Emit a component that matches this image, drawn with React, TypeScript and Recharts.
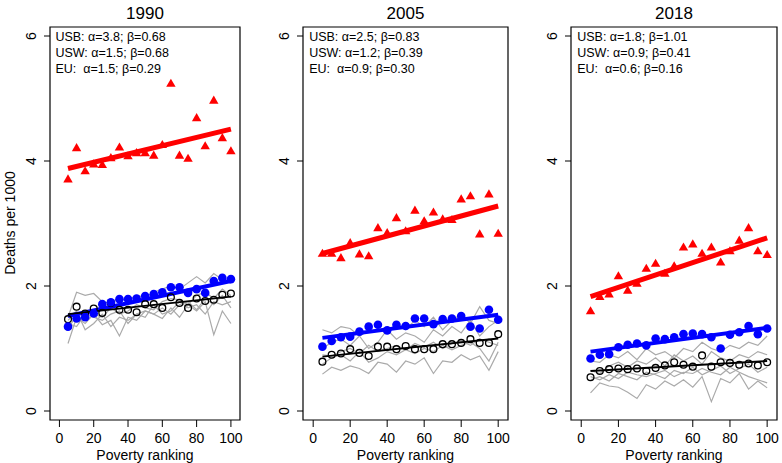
import React from "react";
import {
  ComposedChart,
  Line,
  Scatter,
  XAxis,
  YAxis,
  ReferenceArea,
} from "recharts";

// poverty ranking (x) shared by all panels
const ranks = [5, 10, 15, 20, 25, 30, 35, 40, 45, 50, 55, 60, 65, 70, 75, 80, 85, 90, 95, 100];
const xTicks = [0, 20, 40, 60, 80, 100];
const yTicks = [0, 2, 4, 6];

// 1990
const usb1990 = [3.7, 4.2, 3.83, 3.94, 3.93, 4.04, 4.21, 4.07, 4.12, 4.12, 4.08, 4.25, 5.23, 4.08, 4.03, 4.68, 4.23, 4.96, 4.36, 4.15];
const usw1990 = [1.35, 1.48, 1.5, 1.56, 1.71, 1.74, 1.79, 1.79, 1.8, 1.84, 1.87, 1.9, 1.98, 1.98, 1.89, 1.95, 1.89, 2.08, 2.13, 2.11];
const eu1990 = [1.47, 1.67, 1.56, 1.64, 1.57, 1.73, 1.62, 1.62, 1.58, 1.71, 1.71, 1.65, 1.82, 1.73, 1.65, 1.8, 1.76, 1.78, 1.86, 1.88];
const usbFit1990 = [3.88, 4.51];
const uswFit1990 = [1.52, 2.08];
const euFit1990 = [1.55, 1.83];
const grey1990 = [
  [1.5, 1.9, 1.85, 1.88, 1.75, 1.72, 1.8, 1.78, 1.85, 1.82, 1.9, 1.95, 2.0, 1.95, 2.05, 2.15, 2.05, 2.2, 2.1, 2.05],
  [1.3, 1.55, 1.6, 1.55, 1.5, 1.65, 1.55, 1.6, 1.7, 1.65, 1.62, 1.75, 1.8, 1.78, 1.7, 1.85, 1.9, 1.8, 1.95, 1.85],
  [1.08, 1.5, 1.4, 1.55, 1.38, 1.45, 1.2, 1.5, 1.45, 1.6, 1.55, 1.48, 1.65, 1.5, 1.7, 1.6, 1.75, 1.22, 1.6, 1.4],
  [1.45, 1.6, 1.3, 1.4, 1.55, 1.35, 1.5, 1.45, 1.55, 1.5, 1.7, 1.55, 1.6, 1.75, 1.65, 1.7, 1.55, 1.75, 1.7, 1.75],
  [1.4, 1.35, 1.55, 1.5, 1.45, 1.55, 1.6, 1.4, 1.55, 1.6, 1.55, 1.65, 1.55, 1.7, 1.75, 1.62, 1.8, 1.7, 1.85, 1.65],
];
const stats1990 = ["USB: α=3.8; β=0.68", "USW: α=1.5; β=0.68", "EU:  α=1.5; β=0.29"];

// 2005
const usb2005 = [2.51, 2.51, 2.44, 2.68, 2.5, 2.47, 2.92, 2.84, 3.08, 2.87, 3.2, 3.03, 3.17, 3.06, 3.05, 3.38, 3.43, 2.82, 3.46, 2.83];
const usw2005 = [1.03, 1.12, 1.18, 1.19, 1.27, 1.35, 1.38, 1.29, 1.38, 1.36, 1.48, 1.48, 1.39, 1.47, 1.48, 1.52, 1.35, 1.32, 1.62, 1.46];
const eu2005 = [0.79, 0.9, 0.92, 0.99, 0.93, 0.88, 1.03, 1.03, 0.99, 1.04, 0.99, 0.99, 0.99, 1.07, 1.07, 1.09, 1.15, 1.09, 1.09, 1.23];
const usbFit2005 = [2.52, 3.28];
const uswFit2005 = [1.17, 1.54];
const euFit2005 = [0.87, 1.16];
const grey2005 = [
  [1.3, 1.25, 1.35, 1.32, 1.2, 1.28, 1.3, 1.25, 1.4, 1.3, 1.45, 1.35, 1.5, 1.3, 1.45, 1.55, 1.4, 1.67, 1.45, 1.4],
  [1.0, 1.1, 1.15, 1.05, 1.2, 1.0, 1.1, 1.3, 1.15, 1.25, 1.2, 1.1, 1.3, 1.2, 1.35, 1.25, 1.45, 1.2, 1.35, 1.45],
  [0.59, 0.7, 0.65, 0.72, 0.68, 0.6, 0.78, 0.75, 0.62, 0.8, 0.75, 0.85, 0.6, 0.8, 0.78, 0.9, 0.82, 0.88, 0.65, 0.95],
  [0.75, 0.85, 0.9, 0.8, 0.95, 0.78, 0.85, 0.95, 0.9, 0.98, 0.92, 1.0, 0.95, 1.05, 0.98, 1.05, 1.1, 1.0, 0.8, 1.1],
  [0.9, 0.88, 0.95, 1.0, 0.92, 1.05, 0.95, 1.0, 1.05, 0.98, 1.08, 1.02, 1.1, 1.0, 1.08, 1.12, 1.05, 1.15, 1.1, 1.05],
];
const stats2005 = ["USB: α=2.5; β=0.83", "USW: α=1.2; β=0.39", "EU:  α=0.9; β=0.30"];

// 2018
const usb2018 = [1.59, 1.82, 1.86, 2.15, 1.92, 2.03, 2.27, 2.35, 2.19, 2.31, 2.61, 2.66, 2.51, 2.61, 2.37, 2.55, 2.72, 2.92, 2.55, 2.49];
const usw2018 = [0.84, 0.9, 0.91, 1.02, 1.06, 1.08, 1.05, 1.16, 1.15, 1.18, 1.23, 1.24, 1.23, 1.18, 1.0, 1.22, 1.26, 1.36, 1.23, 1.32];
const eu2018 = [0.54, 0.64, 0.67, 0.68, 0.67, 0.68, 0.64, 0.69, 0.73, 0.78, 0.74, 0.71, 0.89, 0.71, 0.78, 0.77, 0.74, 0.76, 0.73, 0.78];
const usbFit2018 = [1.83, 2.77];
const uswFit2018 = [0.95, 1.33];
const euFit2018 = [0.64, 0.8];
const grey2018 = [
  [0.8, 0.78, 0.9, 0.85, 0.95, 0.82, 1.0, 0.9, 0.95, 0.85, 1.0, 0.95, 1.1, 1.0, 0.95, 1.05, 1.0, 1.1, 1.05, 1.2],
  [0.65, 0.6, 0.72, 0.78, 0.7, 0.8, 0.75, 0.85, 0.72, 0.9, 0.8, 0.88, 0.75, 0.95, 0.85, 0.8, 0.9, 0.85, 0.95, 0.9],
  [0.29, 0.45, 0.4, 0.38, 0.3, 0.2, 0.42, 0.35, 0.48, 0.4, 0.5, 0.38, 0.55, 0.15, 0.52, 0.45, 0.6, 0.35, 0.48, 0.37],
  [0.5, 0.55, 0.48, 0.6, 0.55, 0.5, 0.62, 0.58, 0.52, 0.65, 0.6, 0.7, 0.58, 0.65, 0.72, 0.6, 0.68, 0.75, 0.62, 0.7],
  [0.55, 0.5, 0.58, 0.52, 0.62, 0.58, 0.55, 0.6, 0.65, 0.55, 0.62, 0.6, 0.68, 0.62, 0.58, 0.7, 0.62, 0.55, 0.5, 0.45],
];
const stats2018 = ["USB: α=1.8; β=1.01", "USW: α=0.9; β=0.41", "EU:  α=0.6; β=0.16"];

const FONT = '"Liberation Sans", Arial, Helvetica, sans-serif';
const GREY = "#aaaaaa";
const X_DOMAIN: [number, number] = [-5.5, 105.3];
const Y_DOMAIN: [number, number] = [-0.144, 6.144];

function buildRows(
  usb: number[],
  usw: number[],
  eu: number[],
  usbFit: number[],
  uswFit: number[],
  euFit: number[],
  grey: number[][]
) {
  const last = ranks.length - 1;
  return ranks.map((x, i) => {
    const row: Record<string, number | null> = {
      x,
      usb: usb[i],
      usw: usw[i],
      eu: eu[i],
      usbFit: i === 0 ? usbFit[0] : i === last ? usbFit[1] : null,
      uswFit: i === 0 ? uswFit[0] : i === last ? uswFit[1] : null,
      euFit: i === 0 ? euFit[0] : i === last ? euFit[1] : null,
    };
    grey.forEach((g, k) => {
      row["g" + k] = g[i];
    });
    return row;
  });
}

const Triangle = (props: any) => {
  const { cx, cy } = props;
  if (cx == null || cy == null) return null;
  const r = 3.5;
  const pts = [
    [cx, cy - r * 1.555],
    [cx + r * 1.347, cy + r * 0.778],
    [cx - r * 1.347, cy + r * 0.778],
  ]
    .map((p) => p.join(","))
    .join(" ");
  return <polygon points={pts} fill="#ff0000" />;
};

const FilledDot = (props: any) => {
  const { cx, cy } = props;
  if (cx == null || cy == null) return null;
  return <circle cx={cx} cy={cy} r={4.3} fill="#0000ff" />;
};

const OpenDot = (props: any) => {
  const { cx, cy } = props;
  if (cx == null || cy == null) return null;
  return <circle cx={cx} cy={cy} r={3.4} fill="none" stroke="#000" strokeWidth={1.3} />;
};

const YTick = (props: any) => {
  const { x, y, payload } = props;
  return (
    <text
      x={x}
      y={y}
      transform={`rotate(-90 ${x} ${y})`}
      textAnchor="middle"
      fontSize={14}
      fontFamily={FONT}
      fill="#000"
    >
      {payload.value}
    </text>
  );
};

interface PanelProps {
  year: string;
  rows: Record<string, number | null>[];
  greyCount: number;
  stats: string[];
  left: number;
  width: number;
  marginLeft: number;
  marginRight: number;
}

function Panel({ year, rows, greyCount, stats, left, width, marginLeft, marginRight }: PanelProps) {
  const boxLeft = left + marginLeft + 30;
  const boxRight = left + width - marginRight;
  const centre = (boxLeft + boxRight) / 2;
  const zeroX = boxLeft + ((0 - X_DOMAIN[0]) / (X_DOMAIN[1] - X_DOMAIN[0])) * (boxRight - boxLeft);
  return (
    <>
      <div style={{ position: "absolute", left, top: 0 }}>
        <ComposedChart
          width={width}
          height={463}
          data={rows}
          margin={{ top: 27, right: marginRight, left: marginLeft, bottom: 0 }}
        >
          <XAxis
            type="number"
            dataKey="x"
            domain={X_DOMAIN}
            ticks={xTicks}
            allowDataOverflow
            axisLine={false}
            tickLine={{ stroke: "#000" }}
            tickSize={7}
            tickMargin={6}
            height={43}
            tick={{ fontSize: 14, fill: "#000", fontFamily: FONT }}
            interval={0}
          />
          <YAxis
            type="number"
            domain={Y_DOMAIN}
            ticks={yTicks}
            allowDataOverflow
            axisLine={false}
            tickLine={{ stroke: "#000" }}
            tickSize={6}
            tickMargin={8}
            width={30}
            tick={<YTick />}
            interval={0}
          />
          <ReferenceArea
            x1={X_DOMAIN[0]}
            x2={X_DOMAIN[1]}
            y1={Y_DOMAIN[0]}
            y2={Y_DOMAIN[1]}
            fill="none"
            stroke="#000"
            strokeWidth={1.2}
            ifOverflow="visible"
          />
          {Array.from({ length: greyCount }, (_, k) => (
            <Line
              key={k}
              dataKey={"g" + k}
              stroke={GREY}
              strokeWidth={1.2}
              dot={false}
              activeDot={false}
              isAnimationActive={false}
            />
          ))}
          <Scatter dataKey="eu" shape={<OpenDot />} isAnimationActive={false} />
          <Scatter dataKey="usw" shape={<FilledDot />} isAnimationActive={false} />
          <Scatter dataKey="usb" shape={<Triangle />} isAnimationActive={false} />
          <Line dataKey="usbFit" stroke="#ff0000" strokeWidth={5} dot={false} activeDot={false} connectNulls isAnimationActive={false} />
          <Line dataKey="uswFit" stroke="#0000ff" strokeWidth={4} dot={false} activeDot={false} connectNulls isAnimationActive={false} />
          <Line dataKey="euFit" stroke="#000" strokeWidth={2} dot={false} activeDot={false} connectNulls isAnimationActive={false} />
        </ComposedChart>
      </div>
      <div
        style={{
          position: "absolute",
          left: centre,
          top: 14,
          transform: "translate(-50%, -50%)",
          fontSize: 17,
          fontFamily: FONT,
        }}
      >
        {year}
      </div>
      <div
        style={{
          position: "absolute",
          left: zeroX - 4,
          top: 29,
          fontSize: 12.5,
          lineHeight: "16px",
          fontFamily: FONT,
          whiteSpace: "pre",
        }}
      >
        {stats.map((s) => (
          <div key={s}>{s}</div>
        ))}
      </div>
      <div
        style={{
          position: "absolute",
          left: centre,
          top: 455,
          transform: "translate(-50%, -50%)",
          fontSize: 14,
          fontFamily: FONT,
          whiteSpace: "nowrap",
        }}
      >
        Poverty ranking
      </div>
    </>
  );
}

export default function App() {
  const rows1990 = buildRows(usb1990, usw1990, eu1990, usbFit1990, uswFit1990, euFit1990, grey1990);
  const rows2005 = buildRows(usb2005, usw2005, eu2005, usbFit2005, uswFit2005, euFit2005, grey2005);
  const rows2018 = buildRows(usb2018, usw2018, eu2018, usbFit2018, uswFit2018, euFit2018, grey2018);

  return (
    <div
      style={{
        position: "absolute",
        left: 0,
        top: 0,
        width: 782,
        height: 463,
        background: "#fff",
        fontFamily: FONT,
        overflow: "hidden",
      }}
    >
      <div
        style={{
          position: "absolute",
          left: 10,
          top: 223,
          transform: "translate(-50%, -50%) rotate(-90deg)",
          fontSize: 14,
          whiteSpace: "nowrap",
        }}
      >
        Deaths per 1000
      </div>
      <Panel year="1990" rows={rows1990} greyCount={grey1990.length} stats={stats1990} left={0} width={250} marginLeft={20} marginRight={10} />
      <Panel year="2005" rows={rows2005} greyCount={grey2005.length} stats={stats2005} left={260} width={258} marginLeft={13} marginRight={10} />
      <Panel year="2018" rows={rows2018} greyCount={grey2018.length} stats={stats2018} left={530} width={252} marginLeft={11} marginRight={5} />
    </div>
  );
}
